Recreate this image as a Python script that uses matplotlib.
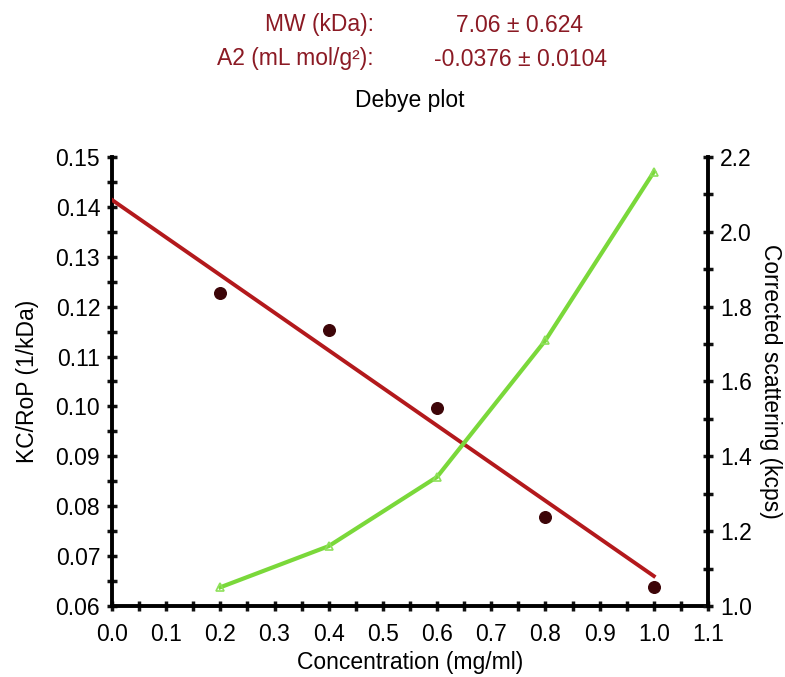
import matplotlib
matplotlib.use("Agg")
import matplotlib.pyplot as plt
from matplotlib.ticker import MultipleLocator
import numpy as np

plt.rcParams['font.family'] = ['Liberation Sans', 'DejaVu Sans']

# Data
conc = [0.2, 0.4, 0.6, 0.8, 1.0]
kc_rop = [0.1227, 0.1153, 0.0997, 0.0779, 0.0638]
fit_x = [0.0, 1.0]
fit_y = [0.1414, 0.0660]
scatter_x = [0.2, 0.4, 0.6, 0.8, 1.0]
scatter_y = [1.05, 1.16, 1.345, 1.71, 2.16]

FS = 16.5

fig = plt.figure(figsize=(7.85, 6.77), dpi=100)
ax = fig.add_axes([0.1427, 0.1049, 0.7592, 0.6632])
ax2 = ax.twinx()

ax.plot(fit_x, fit_y, color='#b3191c', lw=2.8, zorder=3)
ax.scatter(conc, kc_rop, s=70, color='#3d0508', zorder=4)
ax2.plot(scatter_x, scatter_y, color='#7ad83a', lw=3, marker='^', ms=6,
         mfc='none', mec='#8ee05a', mew=1.2, zorder=3)

ax.set_xlim(0.0, 1.1)
ax.set_ylim(0.06, 0.15)
ax2.set_ylim(1.0, 2.2)

ax.xaxis.set_major_locator(MultipleLocator(0.1))
ax.xaxis.set_minor_locator(MultipleLocator(0.05))
ax.yaxis.set_major_locator(MultipleLocator(0.01))
ax.yaxis.set_minor_locator(MultipleLocator(0.005))
ax2.yaxis.set_major_locator(MultipleLocator(0.2))
ax2.yaxis.set_minor_locator(MultipleLocator(0.1))

ax.xaxis.set_major_formatter(plt.FuncFormatter(lambda v, p: f"{v:.1f}"))
ax.yaxis.set_major_formatter(plt.FuncFormatter(lambda v, p: f"{v:.2f}"))
ax2.yaxis.set_major_formatter(plt.FuncFormatter(lambda v, p: f"{v:.1f}"))

for a in (ax, ax2):
    for s in a.spines.values():
        s.set_visible(False)
for side in ('left', 'bottom'):
    ax.spines[side].set_visible(True)
    ax.spines[side].set_linewidth(2.8)
ax2.spines['right'].set_visible(True)
ax2.spines['right'].set_linewidth(2.8)

ax.tick_params(axis='both', which='both', direction='inout', width=2.5, length=7,
               labelsize=FS, color='#111111')
ax.tick_params(axis='x', pad=9)
ax.tick_params(axis='y', pad=5)
ax2.tick_params(axis='y', which='both', direction='inout', width=2.5, length=7,
                labelsize=FS, color='#111111', pad=5)

ax.set_xlabel('Concentration (mg/ml)', fontsize=FS, labelpad=3)
ax.set_ylabel('KC/RoP (1/kDa)', fontsize=FS, labelpad=12)
ax2.set_ylabel('Corrected scattering (kcps)', fontsize=FS, rotation=270, labelpad=22)

red = '#8b1a24'
fig.text(374/785, 1-25/677, 'MW (kDa):', ha='right', va='center', fontsize=FS, color=red)
fig.text(519/785, 1-25/677, '7.06 ± 0.624', ha='center', va='center', fontsize=FS, color=red)
fig.text(374/785, 1-59/677, 'A2 (mL mol/g²):', ha='right', va='center', fontsize=FS, color=red)
fig.text(520/785, 1-59/677, '-0.0376 ± 0.0104', ha='center', va='center', fontsize=FS, color=red)
fig.text(410/785, 1-101/677, 'Debye plot', ha='center', va='center', fontsize=FS, color='black')

fig.savefig('out.png', dpi=100)
